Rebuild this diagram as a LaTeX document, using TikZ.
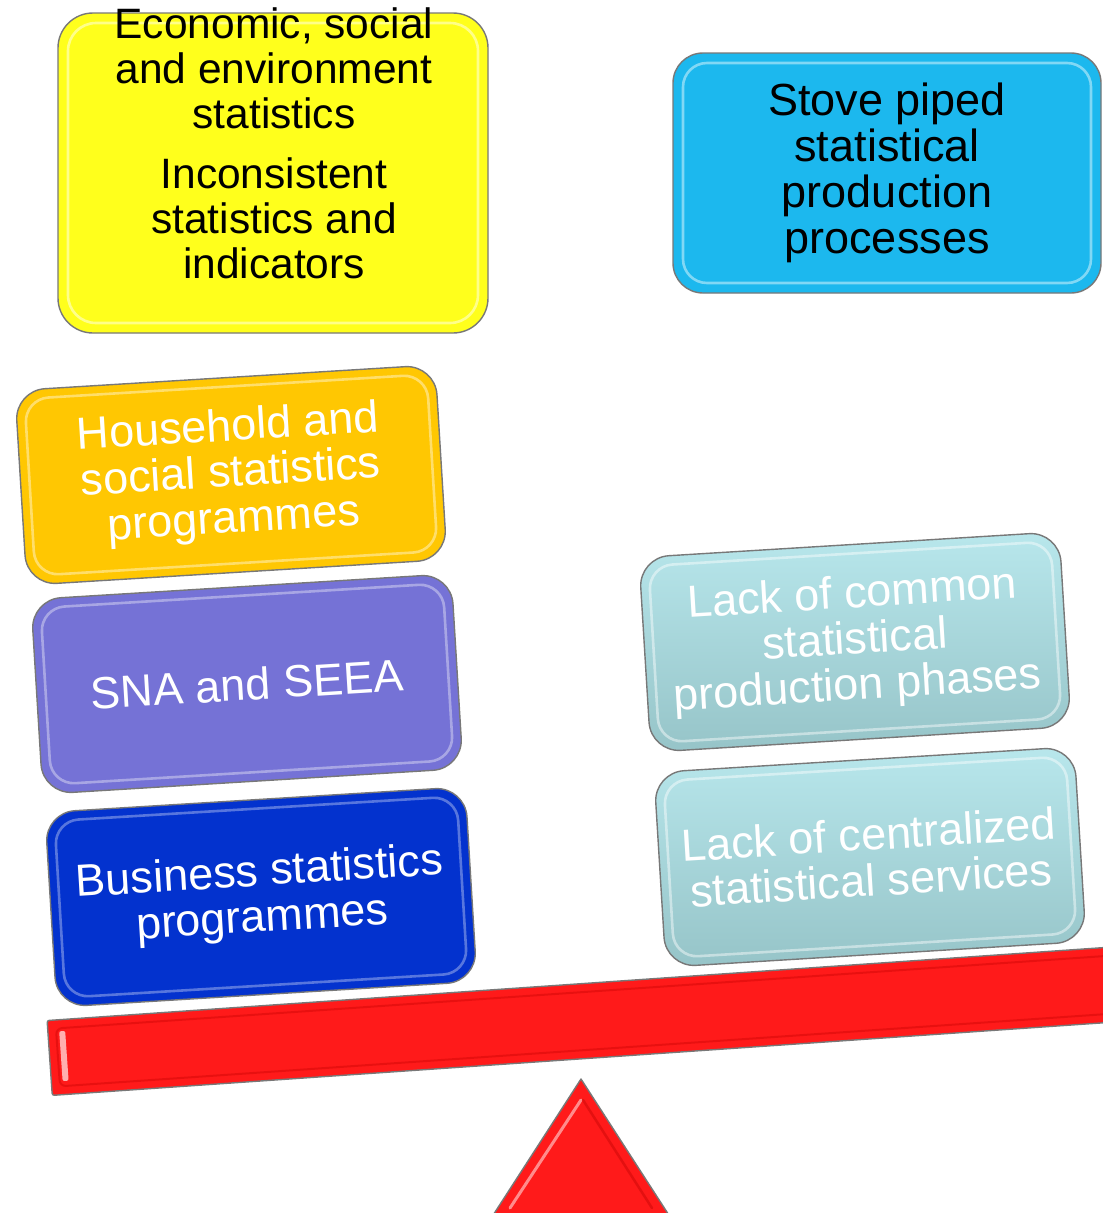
\documentclass[tikz,border=0pt]{standalone}
\usepackage{fontspec}
\setmainfont{Liberation Sans}
\definecolor{yelC}{RGB}{255,255,28}
\definecolor{cyaC}{RGB}{28,184,238}
\definecolor{oraC}{RGB}{255,199,2}
\definecolor{purC}{RGB}{117,114,214}
\definecolor{dbC}{RGB}{3,50,206}
\definecolor{ltTop}{RGB}{184,231,236}
\definecolor{ltBot}{RGB}{150,196,200}
\definecolor{redC}{RGB}{255,26,26}
\definecolor{edgeC}{RGB}{120,120,120}
\newcommand{\boxfont}{\fontsize{45}{46}\selectfont}
\newcommand{\yelfont}{\fontsize{42.5}{45}\selectfont}
\tikzset{
  bbox/.style={rounded corners=30pt, draw=edgeC, line width=1.4pt, inner sep=0pt,
    align=center, text=white, font=\boxfont},
  rimbox/.style={rounded corners=24pt, line width=2.6pt, inner sep=0pt, draw opacity=0.75},
  tilted/.style={rotate=3.5, minimum width=421pt, minimum height=195pt},
  tiltedrim/.style={rotate=3.5, minimum width=403pt, minimum height=177pt},
  redshape/.style={fill=redC, draw=edgeC, line width=1.4pt},
}
\begin{document}
\begin{tikzpicture}[x=1pt,y=1pt]
\useasboundingbox (0,0) rectangle (1103,-1213);
\clip (0,0) rectangle (1103,-1213);
\fill[white] (0,0) rectangle (1103,-1213);

% yellow box
\node[bbox, rounded corners=35pt, fill=yelC, minimum width=430pt, minimum height=320pt] (yel) at (273,-173) {};
\node[rimbox, rounded corners=28pt, draw=yelC!35!white, minimum width=410pt, minimum height=300pt] (yelrim) at (yel.center) {};
\node[anchor=north, inner sep=0pt, align=center, font=\yelfont, text=black] (yeltext) at (274,-7)
  {Economic, social\\and environment\\statistics\\[15pt]Inconsistent\\statistics and\\indicators};

% cyan box
\node[bbox, fill=cyaC, text=black, minimum width=428pt, minimum height=240pt] (stove) at (887,-173)
  {Stove piped\\statistical\\production\\processes};
\node[rimbox, draw=cyaC!40!white, minimum width=408pt, minimum height=220pt] (stoverim) at (stove.center) {};

% left stack
\node[bbox, tilted, fill=oraC] (house) at (231,-475) {Household and\\social statistics\\programmes};
\node[rimbox, tiltedrim, draw=oraC!45!white] (houserim) at (house.center) {};

\node[bbox, tilted, fill=purC] (sna) at (247,-684) {SNA and SEEA};
\node[rimbox, tiltedrim, draw=purC!50!white] (snarim) at (sna.center) {};

\node[bbox, tilted, fill=dbC] (bus) at (261,-897) {Business statistics\\programmes};
\node[rimbox, tiltedrim, draw=dbC!55!white] (busrim) at (bus.center) {};

% right stack
\node[bbox, tilted, top color=ltTop, bottom color=ltBot] (phases) at (855,-642)
  {Lack of common\\statistical\\production phases};
\node[rimbox, tiltedrim, draw=white, draw opacity=0.45] (phasesrim) at (phases.center) {};

\node[bbox, tilted, top color=ltTop, bottom color=ltBot] (central) at (870,-857)
  {Lack of centralized\\statistical services};
\node[rimbox, tiltedrim, draw=white, draw opacity=0.45] (centralrim) at (central.center) {};

% beam
\node[redshape, rounded corners=2pt, rotate=3.95, anchor=west, minimum width=1160pt, minimum height=75pt, inner sep=0pt] (beam) at (49,-1058) {};
\begin{scope}[shift={(beam.west)}, rotate=3.95]
  \fill[white, opacity=0.65, rounded corners=2pt] (12,-24) rectangle (18,26);
  \draw[red!75!black, opacity=0.35, line width=2pt, rounded corners=6pt] (9,-29) rectangle (1150,29);
\end{scope}

% fulcrum
\coordinate (apex) at (581,-1079);
\coordinate (baseL) at (477,-1240);
\coordinate (baseR) at (685,-1240);
\draw[redshape, line join=round] (apex) -- (baseR) -- (baseL) -- cycle;
\draw[white, opacity=0.5, line width=3pt, line cap=round] (581,-1100) -- (510,-1208);
\draw[red!70!black, opacity=0.35, line width=2.5pt, line cap=round] (583,-1100) -- (652,-1208);
\end{tikzpicture}
\end{document}
